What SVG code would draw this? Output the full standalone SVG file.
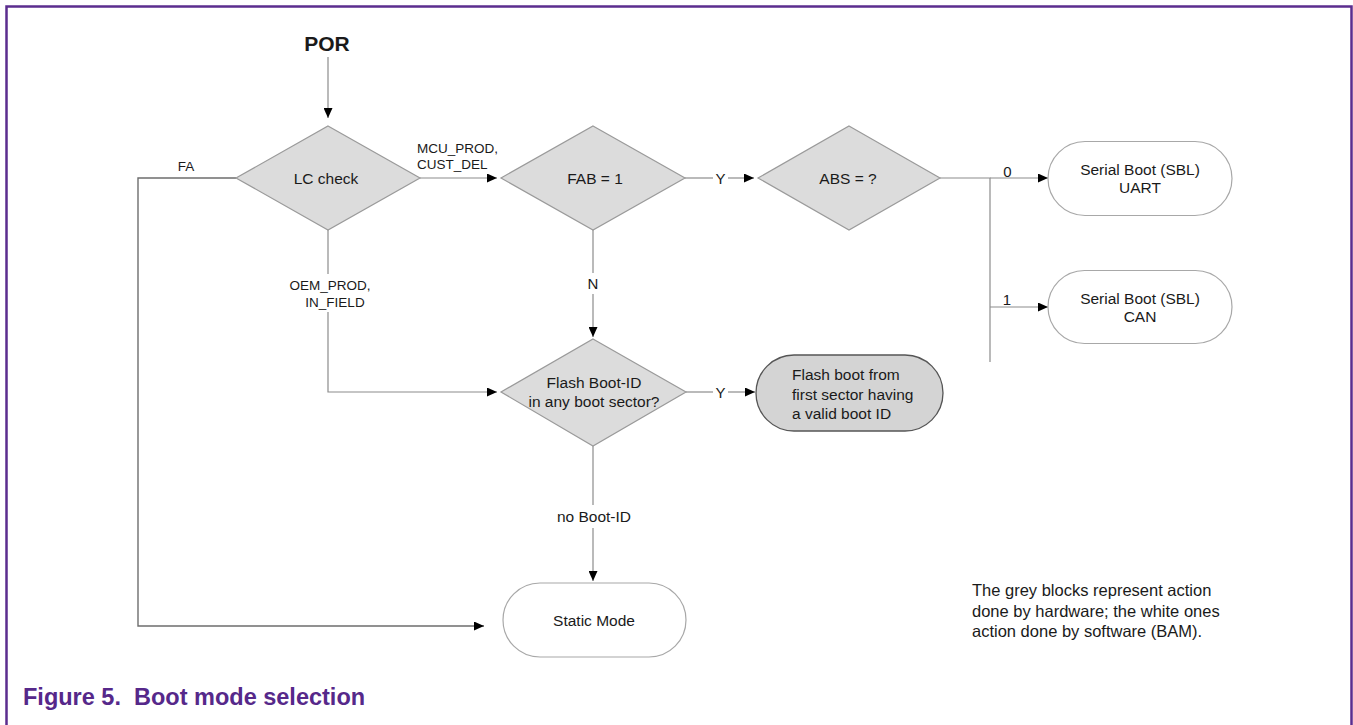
<svg xmlns="http://www.w3.org/2000/svg" width="1353" height="725" viewBox="0 0 1353 725">
<style>
  text { font-family: "Liberation Sans", Arial, sans-serif; fill: #1a1a1a; }
  .lbl { font-size: 15.5px; }
  .edge { font-size: 13.5px; }
  .yn { font-size: 15px; }
  .note { font-size: 16.5px; }
  .dia { fill: #dcdcdc; stroke: #9a9a9a; stroke-width: 1.2; }
  .soft { fill: #ffffff; stroke: #a8a8a8; stroke-width: 1.2; }
  .hard { fill: #d4d4d4; stroke: #555555; stroke-width: 1.3; }
  .ln { fill: none; stroke: #8c8c8c; stroke-width: 1.2; }
  .ln2 { fill: none; stroke: #6e6e6e; stroke-width: 1.4; }
</style>
<defs>
  <marker id="ah" viewBox="0 0 10 9" refX="10" refY="4.5" markerWidth="10" markerHeight="9" markerUnits="userSpaceOnUse" orient="auto">
    <path d="M0,0 L10,4.5 L0,9 z" fill="#000"/>
  </marker>
</defs>
<rect width="1353" height="725" fill="#ffffff"/>
<path d="M6.5,725 V6.5 H1351.5 V725" fill="none" stroke="#5b2d8e" stroke-width="2.5"/>

<g id="connectors">
  <path class="ln" d="M328,57 V118" marker-end="url(#ah)"/>
  <path class="ln" d="M420,178 H497" marker-end="url(#ah)"/>
  <path class="ln2" d="M236,178 H138 V626 H484" marker-end="url(#ah)"/>
  <path class="ln" d="M328,230 V274"/>
  <path class="ln" d="M328,312 V392 H497" marker-end="url(#ah)"/>
  <path class="ln" d="M685,178 H713"/>
  <path class="ln" d="M728,178 H754" marker-end="url(#ah)"/>
  <path class="ln" d="M940,178 H990 V362"/>
  <path class="ln" d="M990,178 H1048" marker-end="url(#ah)"/>
  <path class="ln" d="M990,307 H1048" marker-end="url(#ah)"/>
  <path class="ln" d="M593,230 V273"/>
  <path class="ln" d="M593,294 V337" marker-end="url(#ah)"/>
  <path class="ln" d="M686,392 H713"/>
  <path class="ln" d="M728,392 H755" marker-end="url(#ah)"/>
  <path class="ln" d="M593,446 V505"/>
  <path class="ln" d="M593,528 V581" marker-end="url(#ah)"/>
  <text class="edge" x="186" y="170.5" text-anchor="middle">FA</text>
  <text class="edge" x="417" y="152.5">MCU_PROD,</text>
  <text class="edge" x="417" y="168.5">CUST_DEL</text>
  <text class="yn" x="720.5" y="184" text-anchor="middle">Y</text>
  <text class="yn" x="1007.5" y="177" text-anchor="middle">0</text>
  <text class="yn" x="1007" y="305" text-anchor="middle">1</text>
  <text class="edge" x="330" y="289.5" text-anchor="middle">OEM_PROD,</text>
  <text class="edge" x="335" y="306.5" text-anchor="middle">IN_FIELD</text>
  <text class="yn" x="593" y="288.5" text-anchor="middle">N</text>
  <text class="yn" x="720.5" y="398" text-anchor="middle">Y</text>
  <text class="lbl" x="594" y="521.5" text-anchor="middle">no Boot-ID</text>
</g>

<g id="por">
  <text x="327" y="51" text-anchor="middle" font-size="21" font-weight="bold">POR</text>
</g>

<g id="lc-check">
  <polygon class="dia" points="328,126 420,178 328,230 236,178"/>
  <text class="lbl" x="326" y="183.5" text-anchor="middle">LC check</text>
</g>

<g id="fab">
  <polygon class="dia" points="593,126 685,178 593,230 501,178"/>
  <text class="lbl" x="595" y="183.5" text-anchor="middle">FAB = 1</text>
</g>

<g id="abs">
  <polygon class="dia" points="849,126 940,178 849,230 758,178"/>
  <text class="lbl" x="848" y="183.5" text-anchor="middle">ABS = ?</text>
</g>

<g id="sbl-uart">
  <rect class="soft" x="1048" y="141.5" width="184" height="74" rx="37" ry="37"/>
  <text class="lbl" x="1140" y="174.5" text-anchor="middle">Serial Boot (SBL)</text>
  <text class="lbl" x="1140" y="193" text-anchor="middle">UART</text>
</g>

<g id="sbl-can">
  <rect class="soft" x="1048" y="270.5" width="184" height="73" rx="36.5" ry="36.5"/>
  <text class="lbl" x="1140" y="303.5" text-anchor="middle">Serial Boot (SBL)</text>
  <text class="lbl" x="1140" y="322" text-anchor="middle">CAN</text>
</g>

<g id="flash-bootid">
  <polygon class="dia" points="593,339 686,392 593,446 501,392"/>
  <text class="lbl" x="594" y="388" text-anchor="middle">Flash Boot-ID</text>
  <text class="lbl" x="594" y="407" text-anchor="middle">in any boot sector?</text>
</g>

<g id="flash-boot">
  <rect class="hard" x="756" y="355" width="187" height="76" rx="38" ry="38"/>
  <text class="lbl" x="792" y="379.5">Flash boot from</text>
  <text class="lbl" x="792" y="399.5">first sector having</text>
  <text class="lbl" x="792" y="419">a valid boot ID</text>
</g>

<g id="static-mode">
  <rect class="soft" x="503" y="583" width="183" height="74" rx="37" ry="37"/>
  <text class="lbl" x="594" y="625.5" text-anchor="middle">Static Mode</text>
</g>

<g id="note">
  <text class="note" x="972" y="596">The grey blocks represent action</text>
  <text class="note" x="972" y="616.5">done by hardware; the white ones</text>
  <text class="note" x="972" y="637">action done by software (BAM).</text>
</g>

<g id="caption">
  <text x="23" y="705" font-size="23.5" font-weight="bold" style="fill:#56288a" xml:space="preserve">Figure 5.  Boot mode selection</text>
</g>
</svg>
